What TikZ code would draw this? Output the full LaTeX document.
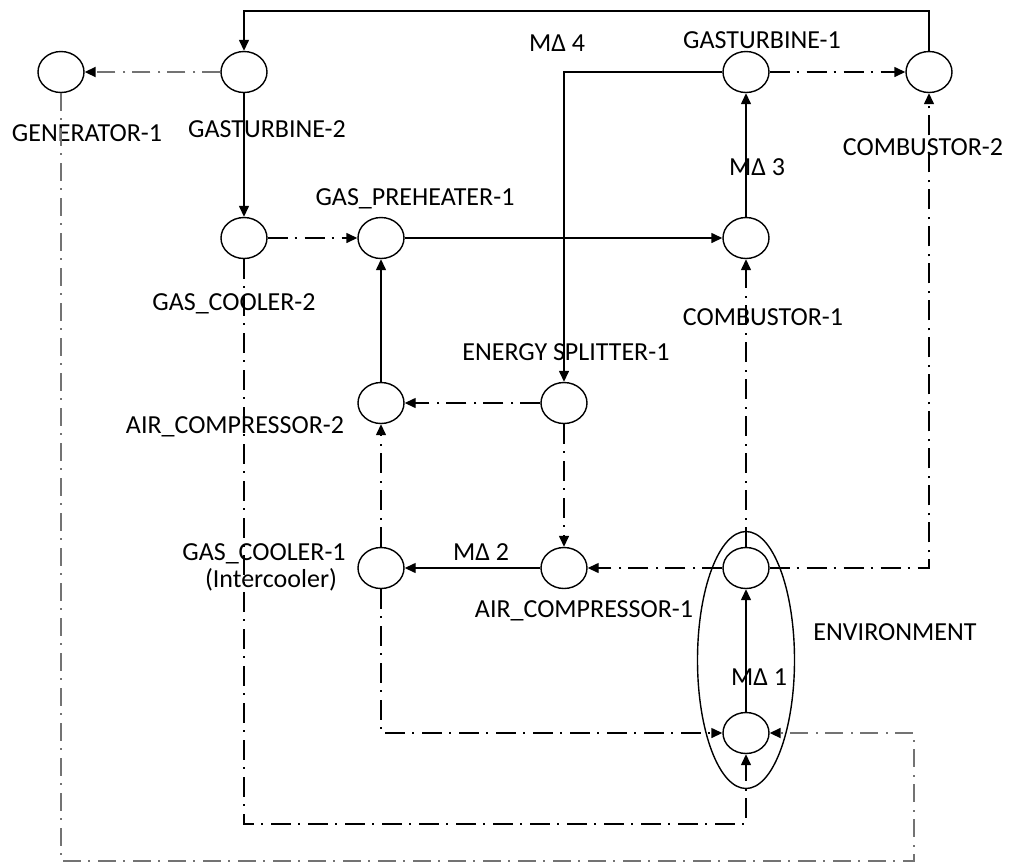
\documentclass[tikz,border=0pt]{standalone}
\usepackage{fontspec}
\setmainfont{Carlito}
\usetikzlibrary{shapes.geometric,arrows.meta}
\begin{document}
\begin{tikzpicture}[x=1pt,y=-1pt,
  unit/.style={ellipse,draw,line width=1.4pt,minimum width=46pt,minimum height=41pt,inner sep=0pt},
  lbl/.style={anchor=base,inner sep=0pt,font=\fontsize{26}{30}\selectfont},
  flow/.style={line width=1.4pt,-{Triangle[length=11pt,width=10pt,black]}},
  mass/.style={flow},
  energy/.style={flow,dash pattern=on 20pt off 7pt on 2pt off 8pt},
  elec/.style={flow,draw={rgb,255:red,115;green,115;blue,115},line width=1.8pt,dash pattern=on 18pt off 7pt on 2pt off 8pt},
]
\useasboundingbox (0,0) rectangle (1010,863);
% nodes
\node[unit] (gen) at (61,72) {};
\node[unit] (gt2) at (244,72) {};
\node[unit] (gt1) at (746,72) {};
\node[unit] (comb2) at (929,72) {};
\node[unit] (gc2) at (244,238) {};
\node[unit] (gp) at (381,238) {};
\node[unit] (comb1) at (746,238) {};
\node[unit] (ac2) at (381,403) {};
\node[unit] (es) at (564,403) {};
\node[unit] (gc1) at (381,568) {};
\node[unit] (ac1) at (564,568) {};
\node[unit] (envt) at (746,568) {};
\node[unit] (envb) at (746,733) {};
\node[ellipse,draw,line width=1.4pt,minimum width=97pt,minimum height=257pt,inner sep=0pt] (env) at (746,660) {};
% labels
\node[lbl] (lgen) at (87,141) {GENERATOR-1};
\node[lbl] (lgt2) at (267,137) {GASTURBINE-2};
\node[lbl] (lgp) at (415,205) {GAS\_PREHEATER-1};
\node[lbl] (lgt1) at (762,48) {GASTURBINE-1};
\node[lbl] (lm4) at (557,51) {MΔ 4};
\node[lbl] (lm3) at (757,175) {MΔ 3};
\node[lbl] (lcomb2) at (923,155) {COMBUSTOR-2};
\node[lbl] (lgc2) at (234,310) {GAS\_COOLER-2};
\node[lbl] (les) at (566,360) {ENERGY SPLITTER-1};
\node[lbl] (lcomb1) at (763,325) {COMBUSTOR-1};
\node[lbl] (lac2) at (235,433) {AIR\_COMPRESSOR-2};
\node[lbl] (lgc1) at (264,560) {GAS\_COOLER-1};
\node[lbl] (lic) at (271,587) {(Intercooler)};
\node[lbl] (lac1) at (584,617) {AIR\_COMPRESSOR-1};
\node[lbl] (lm2) at (481,560) {MΔ 2};
\node[lbl] (lenv) at (895,640) {ENVIRONMENT};
\node[lbl] (lm1) at (759,685) {MΔ 1};
% coordinates
\coordinate (top1) at (929,11);
\coordinate (top2) at (244,11);
\coordinate (es1) at (564,72);
\coordinate (gc2a) at (244,824);
\coordinate (gc2b) at (746,824);
\coordinate (gc1a) at (381,733);
\coordinate (envr) at (929,568);
\coordinate (gena) at (61,861);
\coordinate (genb) at (914,861);
\coordinate (genc) at (914,733);
% connectors
\draw[mass] (comb2.north) -- (top1) -- (top2) -- (gt2.north);
\draw[elec] (gt2.west) -- (gen.east);
\draw[mass] (gt2.south) -- (gc2.north);
\draw[energy] (gc2.east) -- (gp.west);
\draw[mass] (gp.east) -- (comb1.west);
\draw[mass] (comb1.north) -- (gt1.south);
\draw[energy] (gt1.east) -- (comb2.west);
\draw[mass] (gt1.west) -- (es1) -- (es.north);
\draw[energy] (es.west) -- (ac2.east);
\draw[energy] (es.south) -- (ac1.north);
\draw[mass] (ac2.north) -- (gp.south);
\draw[energy] (gc1.north) -- (ac2.south);
\draw[mass] (ac1.west) -- (gc1.east);
\draw[energy] (envt.west) -- (ac1.east);
\draw[energy] (envt.north) -- (comb1.south);
\draw[energy] (envt.east) -- (envr) -- (comb2.south);
\draw[mass] (envb.north) -- (envt.south);
\draw[energy] (gc1.south) -- (gc1a) -- (envb.west);
\draw[energy] (gc2.south) -- (gc2a) -- (gc2b) -- (envb.south);
\draw[elec] (gen.south) -- (gena) -- (genb) -- (genc) -- (envb.east);
\end{tikzpicture}
\end{document}
